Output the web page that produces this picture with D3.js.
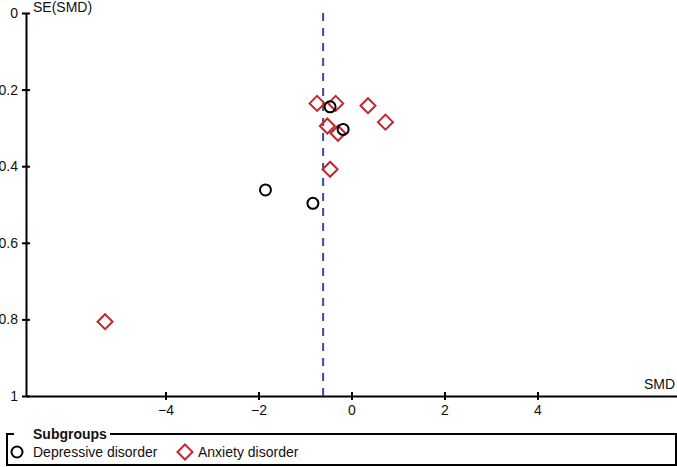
<!DOCTYPE html>
<html>
<head>
<meta charset="utf-8">
<script src="https://cdn.jsdelivr.net/npm/d3@7"></script>
<style>
  body { margin: 0; background: #fff; }
  svg { font-family: "Liberation Sans", Arial, sans-serif; }
</style>
</head>
<body>
<svg id="chart" width="677" height="467"></svg>
<script>
// funnel plot data
var depSMD = [-0.46, -0.18, -1.85, -0.83];
var depSE  = [0.245, 0.304, 0.462, 0.497];
var anxSMD = [-0.74, -0.34, 0.355, 0.73, -0.52, -0.29, -0.46, -5.30];
var anxSE  = [0.236, 0.236, 0.242, 0.285, 0.295, 0.314, 0.408, 0.806];
var pooledSMD = -0.61;
var xTicks = [-4, -2, 0, 2, 4];
var yTicks = [0, 0.2, 0.4, 0.6, 0.8, 1];

var width = 677, height = 467;
var fs = 14;
var svg = d3.select("#chart");

var x = d3.scaleLinear().domain([-7, 7]).range([26, 677]);
var y = d3.scaleLinear().domain([0, 1]).range([13, 396]);

// y axis
var yAxis = d3.axisLeft(y).tickValues(yTicks).tickSize(0).tickPadding(8)
    .tickFormat(function(d) { return d; });
var gy = svg.append("g").attr("transform", "translate(26,0)").call(yAxis);
gy.select(".domain").attr("stroke", "#000").attr("stroke-width", 2);
gy.selectAll(".tick line").remove();
gy.selectAll(".tick").append("line")
    .attr("x1", -4).attr("x2", 4)
    .attr("stroke", "#000").attr("stroke-width", 2);
gy.selectAll(".tick text").attr("font-size", fs).attr("fill", "#111")
    .attr("font-family", "Liberation Sans, Arial, sans-serif");

// x axis
var xAxis = d3.axisBottom(x).tickValues(xTicks).tickSize(0).tickPadding(9);
var gx = svg.append("g").attr("transform", "translate(0,396)").call(xAxis);
gx.select(".domain").attr("stroke", "#000").attr("stroke-width", 2);
gx.selectAll(".tick line").remove();
gx.selectAll(".tick").append("line")
    .attr("y1", -4).attr("y2", 4)
    .attr("stroke", "#000").attr("stroke-width", 2);
gx.selectAll(".tick text").attr("font-size", fs).attr("fill", "#111")
    .attr("font-family", "Liberation Sans, Arial, sans-serif");

// axis titles
svg.append("text").attr("x", 33).attr("y", 12)
    .attr("font-size", fs).attr("fill", "#111").text("SE(SMD)");
svg.append("text").attr("x", 675).attr("y", 389)
    .attr("text-anchor", "end").attr("font-size", fs).attr("fill", "#111").text("SMD");

// pooled estimate
svg.append("line")
    .attr("x1", x(pooledSMD)).attr("x2", x(pooledSMD))
    .attr("y1", y(0)).attr("y2", y(1))
    .attr("stroke", "#3b4a9c").attr("stroke-width", 2)
    .attr("stroke-dasharray", "8,7");

var diamond = function(s) {
  return "M0," + (-s) + "L" + s + ",0L0," + s + "L" + (-s) + ",0Z";
};

var anx = anxSMD.map(function(d, i) { return { smd: d, se: anxSE[i] }; });
var dep = depSMD.map(function(d, i) { return { smd: d, se: depSE[i] }; });

svg.append("g").selectAll("path").data(anx).enter().append("path")
    .attr("d", diamond(7.5))
    .attr("transform", function(d) { return "translate(" + x(d.smd) + "," + y(d.se) + ")"; })
    .attr("fill", "none").attr("stroke", "#c1272d").attr("stroke-width", 2);

svg.append("g").selectAll("circle").data(dep).enter().append("circle")
    .attr("cx", function(d) { return x(d.smd); })
    .attr("cy", function(d) { return y(d.se); })
    .attr("r", 5.5)
    .attr("fill", "none").attr("stroke", "#000").attr("stroke-width", 2);

// legend
var lg = svg.append("g");
lg.append("path")
    .attr("d", "M14,434H7V465H676V434H110")
    .attr("fill", "none").attr("stroke", "#000").attr("stroke-width", 2);
lg.append("text").attr("x", 33).attr("y", 439)
    .attr("font-size", fs).attr("font-weight", "bold").attr("fill", "#111").text("Subgroups");
lg.append("circle").attr("cx", 17).attr("cy", 452).attr("r", 5.5)
    .attr("fill", "none").attr("stroke", "#000").attr("stroke-width", 2);
lg.append("text").attr("x", 33).attr("y", 457).attr("font-size", fs).attr("fill", "#111")
    .text("Depressive disorder");
lg.append("path").attr("d", diamond(7.5))
    .attr("transform", "translate(185,452)")
    .attr("fill", "none").attr("stroke", "#c1272d").attr("stroke-width", 2);
lg.append("text").attr("x", 198).attr("y", 457).attr("font-size", fs).attr("fill", "#111")
    .text("Anxiety disorder");
</script>
</body>
</html>
